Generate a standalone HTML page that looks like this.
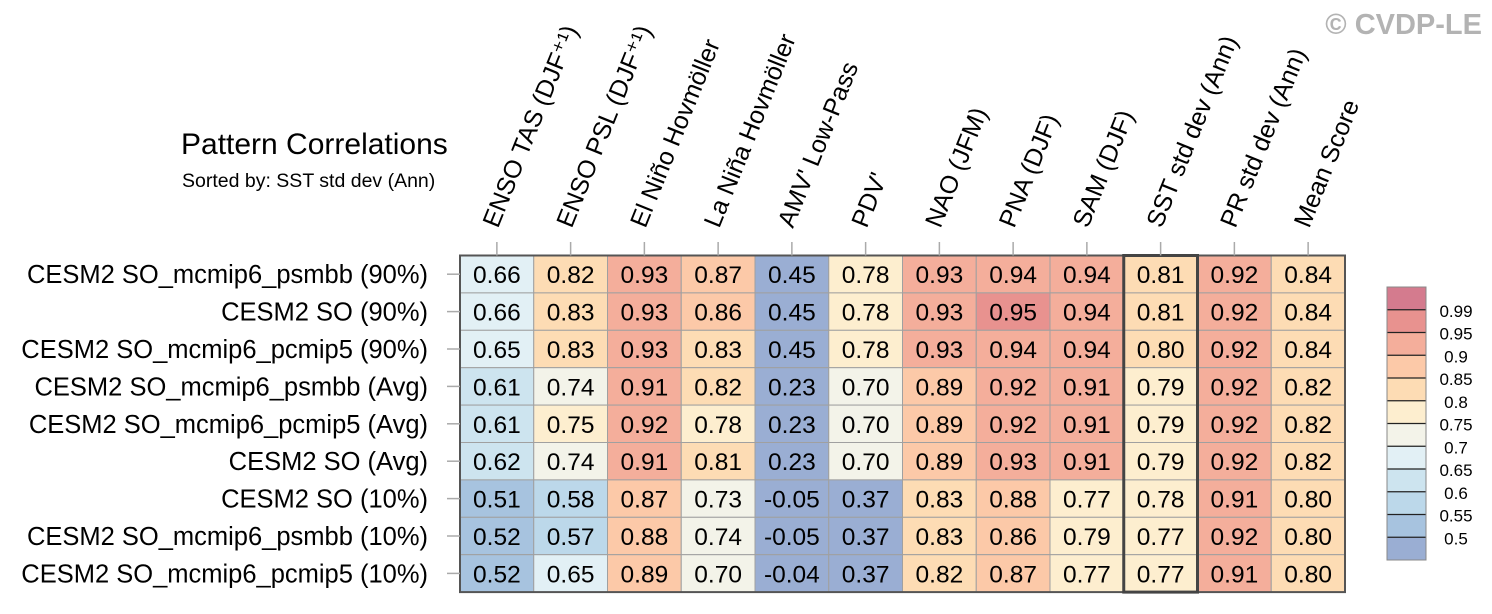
<!DOCTYPE html>
<html><head><meta charset="utf-8"><style>
html,body{margin:0;padding:0;background:#fff;}
svg{display:block;font-family:"Liberation Sans",Arial,sans-serif;}
</style></head><body>
<svg id="chart" width="1492" height="614" viewBox="0 0 1492 614">
<text x="1482" y="34" text-anchor="end" font-size="29" font-weight="bold" fill="#b3b3b3">© CVDP-LE</text>
<text x="181" y="154" font-size="30" fill="#000">Pattern Correlations</text>
<text x="182" y="187" font-size="19.5" fill="#000">Sorted by: SST std dev (Ann)</text>
<g id="grid"></g>
<g id="cbar"></g>
</svg>
<script>
const columns=["ENSO TAS (DJF⁺¹)","ENSO PSL (DJF⁺¹)","El Niño Hovmöller","La Niña Hovmöller","AMV' Low-Pass","PDV'","NAO (JFM)","PNA (DJF)","SAM (DJF)","SST std dev (Ann)","PR std dev (Ann)","Mean Score"];
const rows=["CESM2 SO_mcmip6_psmbb (90%)","CESM2 SO (90%)","CESM2 SO_mcmip6_pcmip5 (90%)","CESM2 SO_mcmip6_psmbb (Avg)","CESM2 SO_mcmip6_pcmip5 (Avg)","CESM2 SO (Avg)","CESM2 SO (10%)","CESM2 SO_mcmip6_psmbb (10%)","CESM2 SO_mcmip6_pcmip5 (10%)"];
const values=[
[0.66,0.82,0.93,0.87,0.45,0.78,0.93,0.94,0.94,0.81,0.92,0.84],
[0.66,0.83,0.93,0.86,0.45,0.78,0.93,0.95,0.94,0.81,0.92,0.84],
[0.65,0.83,0.93,0.83,0.45,0.78,0.93,0.94,0.94,0.80,0.92,0.84],
[0.61,0.74,0.91,0.82,0.23,0.70,0.89,0.92,0.91,0.79,0.92,0.82],
[0.61,0.75,0.92,0.78,0.23,0.70,0.89,0.92,0.91,0.79,0.92,0.82],
[0.62,0.74,0.91,0.81,0.23,0.70,0.89,0.93,0.91,0.79,0.92,0.82],
[0.51,0.58,0.87,0.73,-0.05,0.37,0.83,0.88,0.77,0.78,0.91,0.80],
[0.52,0.57,0.88,0.74,-0.05,0.37,0.83,0.86,0.79,0.77,0.92,0.80],
[0.52,0.65,0.89,0.70,-0.04,0.37,0.82,0.87,0.77,0.77,0.91,0.80]];
const levels=[0.5,0.55,0.6,0.65,0.7,0.75,0.8,0.85,0.9,0.95,0.99];
const levelLabels=["0.5","0.55","0.6","0.65","0.7","0.75","0.8","0.85","0.9","0.95","0.99"];
const colors=["#9aaed3","#a7c3df","#bcd8ea","#cde4ef","#e2f0f5","#f3f3e9","#fdeecf","#fddcb4","#fcc9a8","#f4ae9b","#e8928f","#d47b8e"];
const sortedCol=9;

const NS="http://www.w3.org/2000/svg";
const X0=460,Y0=255.5,CW=73.75,RH=37.4;
const xPos=i=>X0+i*CW, yPos=j=>Y0+j*RH;
function colorFor(v){let k=0;while(k<levels.length&&v>=levels[k]-1e-9)k++;return colors[k];}
function mk(tag,attrs,parent){const e=document.createElementNS(NS,tag);for(const a in attrs)e.setAttribute(a,attrs[a]);parent.appendChild(e);return e;}
const g=document.getElementById('grid');
const nC=columns.length,nR=rows.length;
values.forEach((r,j)=>r.forEach((v,i)=>{
 const c=mk('rect',{x:xPos(i),y:yPos(j),width:CW,height:RH,fill:colorFor(v),stroke:'#a0a0a0','stroke-width':1},g);
 
 
 const t=mk('text',{x:xPos(i)+CW/2,y:yPos(j)+RH/2+9,'text-anchor':'middle','font-size':24.5,fill:'#000'},g);
 t.textContent=v.toFixed(2);
 
 
}));
const fr=mk('rect',{x:X0,y:Y0,width:nC*CW,height:nR*RH,fill:'none',stroke:'#555','stroke-width':2},g);


const hl=mk('rect',{x:xPos(sortedCol),y:Y0,width:CW,height:nR*RH,fill:'none',stroke:'#444','stroke-width':3},g);


columns.forEach((c,i)=>{
 const cx=xPos(i)+CW/2;
 const tk=mk('line',{x1:cx,y1:242,x2:cx,y2:Y0,stroke:'#aaa','stroke-width':1.5},g);
 
 
 const lx=cx+1,ly=229;
 const t=mk('text',{x:lx,y:ly,'font-size':25,fill:'#000',transform:'rotate(-68 '+lx+' '+ly+')'},g);
 t.textContent=c;
 
 
});
rows.forEach((r,j)=>{
 const cy=yPos(j)+RH/2;
 const tk=mk('line',{x1:447,y1:cy,x2:X0,y2:cy,stroke:'#aaa','stroke-width':1.5},g);
 
 
 const t=mk('text',{x:428,y:cy+9,'text-anchor':'end','font-size':25.5,fill:'#000'},g);
 t.textContent=r;
 
 
});
const cb=document.getElementById('cbar');
const CBX=1387,CBW=39,CBT=287,CBB=560,SH=(CBB-CBT)/colors.length;
colors.forEach((col,k)=>{
 const y=CBB-(k+1)*SH;
 const r=mk('rect',{x:CBX,y:y,width:CBW,height:SH,fill:col},cb);
 
 
});
levels.forEach((l,k)=>{
 const y=CBB-(k+1)*SH;
 const ln=mk('line',{x1:CBX,y1:y,x2:CBX+CBW,y2:y,stroke:'#222','stroke-width':1.2},cb);
 
 
 const t=mk('text',{x:1456,y:y+7,'text-anchor':'middle','font-size':17,fill:'#000'},cb);
 t.textContent=levelLabels[k];
 
 
});
const cbf=mk('rect',{x:CBX,y:CBT,width:CBW,height:CBB-CBT,fill:'none',stroke:'#888','stroke-width':1},cb);


</script>
</body></html>
